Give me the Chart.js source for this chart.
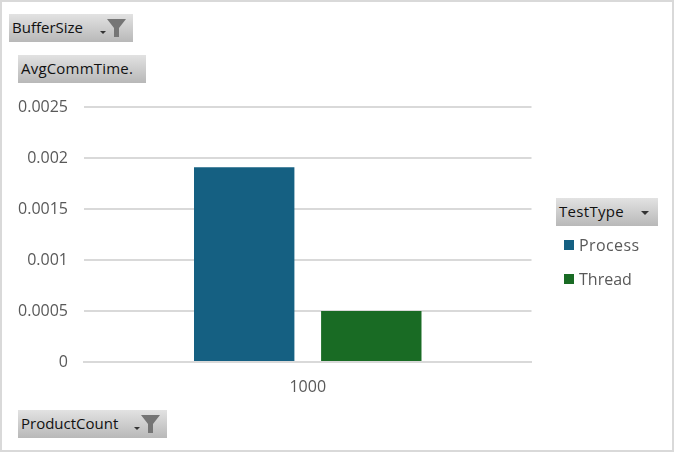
<!DOCTYPE html>
<html>
<head>
<meta charset="utf-8">
<title>AvgCommTime</title>
<script src="https://cdn.jsdelivr.net/npm/chart.js@4"></script>
<style>
  html, body { margin: 0; padding: 0; background: #fff; overflow: hidden; }
  #frame { position: absolute; left: 0; top: 0; width: 670px; height: 448px; border: 2px solid #d9d9d9; background: #fff; }
  #chartCanvas { position: absolute; left: 0; top: 0; }
  .field {
    position: absolute; height: 28px; padding-left: 3px; box-sizing: border-box;
    background: linear-gradient(#e2e2e2, #b8b8b8);
    font: 15px "Open Sans", sans-serif; line-height: 27px; color: #111; white-space: nowrap;
  }
  .field svg { position: absolute; top: 0; }
  .legendItem { position: absolute; left: 579px; font: 16px "Open Sans", sans-serif; color: #595959; line-height: 20px; white-space: nowrap; }
  .legendItem i { position: absolute; left: -15px; top: 5px; width: 10px; height: 10px; }
</style>
</head>
<body>
<div id="frame"></div>
<canvas id="chartCanvas" width="674" height="452"></canvas>

<div class="field" style="left:9px;top:14px;width:124px">BufferSize
  <svg width="40" height="28" style="left:88px"><path d="M3 17h6l-3 3z" fill="#333"/><path d="M10 5h19l-7 9v9h-5v-9z" fill="#757575"/></svg>
</div>
<div class="field" style="left:18px;top:55px;width:128px;letter-spacing:0.2px">AvgCommTime.</div>
<div class="field" style="left:18px;top:410px;width:149px">ProductCount
  <svg width="40" height="28" style="left:112px"><path d="M4 17h6l-3 3z" fill="#333"/><path d="M11 5h19l-7 9v9h-5v-9z" fill="#757575"/></svg>
</div>
<div class="field" style="left:556px;top:198px;width:102px;letter-spacing:0.3px">TestType
  <svg width="20" height="28" style="left:82px"><path d="M3 13h8l-4 4z" fill="#333"/></svg>
</div>
<div id="legend"></div>

<script>
const categories = ['1000'];
const processValues = [0.00191];
const threadValues = [0.0005];
const yTicks = [0, 0.0005, 0.001, 0.0015, 0.002, 0.0025];

const series = [
  { label: 'Process', data: processValues, color: '#156082', spacing: '0.4px' },
  { label: 'Thread', data: threadValues, color: '#196b24', spacing: '0' }
];

const chart = new Chart(document.getElementById('chartCanvas').getContext('2d'), {
  type: 'bar',
  data: {
    labels: categories,
    datasets: series.map(s => ({
      label: s.label,
      data: s.data,
      backgroundColor: s.color,
      categoryPercentage: 0.568,
      barPercentage: 0.79
    }))
  },
  options: {
    responsive: false,
    animation: false,
    layout: { padding: { left: 0, right: 142.5, top: 107, bottom: 0 } },
    plugins: { legend: { display: false }, tooltip: { enabled: false } },
    scales: {
      x: {
        grid: { display: false },
        border: { color: '#d9d9d9', width: 2 },
        ticks: { color: '#595959', font: { family: 'Open Sans', size: 16 }, padding: 8, maxRotation: 0 },
        afterFit: (axis) => { axis.height = 90; }
      },
      y: {
        min: 0,
        max: 0.0025,
        afterBuildTicks: (axis) => { axis.ticks = yTicks.map(v => ({ value: v })); },
        grid: { color: '#d9d9d9', lineWidth: 2, drawTicks: false },
        border: { display: false },
        ticks: { color: '#595959', font: { family: 'Open Sans', size: 16 }, padding: 16, callback: (v) => String(v) },
        afterFit: (axis) => { axis.width = 84; }
      }
    }
  }
});

// legend sits under the TestType field button, same as the pivot chart
const legendEl = document.getElementById('legend');
series.forEach((s, i) => {
  const item = document.createElement('div');
  item.className = 'legendItem';
  item.style.top = (235 + i * 34) + 'px';
  item.style.letterSpacing = s.spacing;
  item.innerHTML = '<i style="background:' + s.color + '"></i>' + s.label;
  legendEl.appendChild(item);
});
</script>
</body>
</html>
